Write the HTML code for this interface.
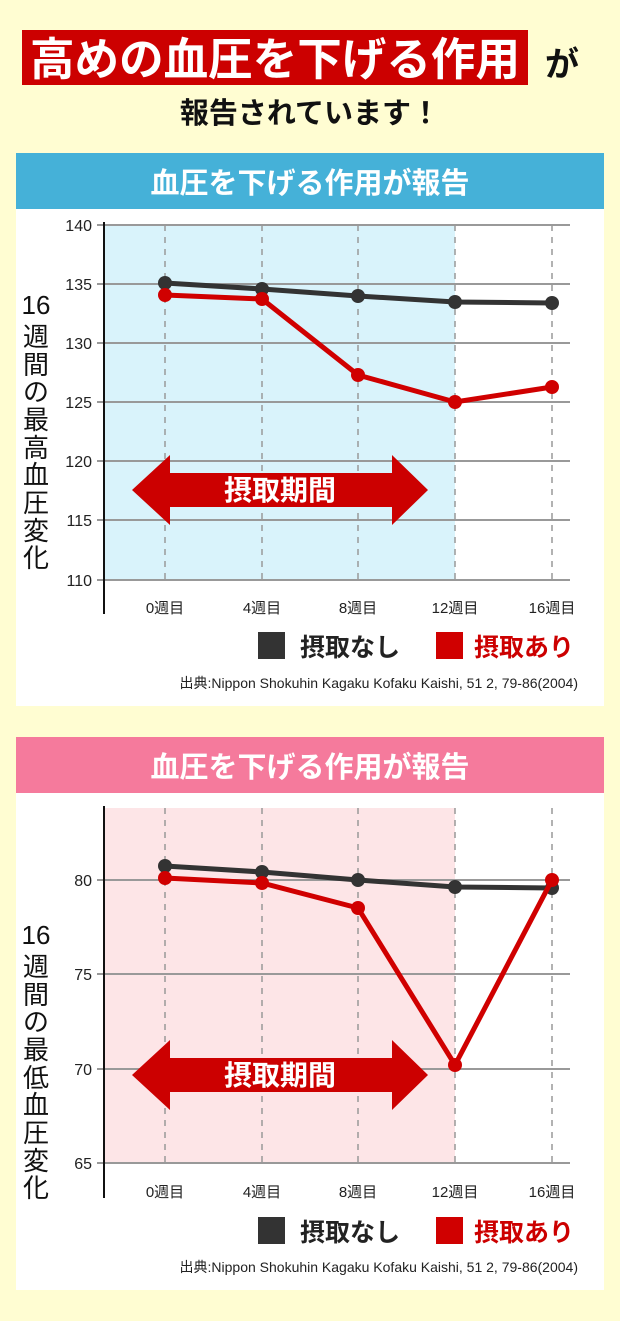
<!DOCTYPE html>
<html><head><meta charset="utf-8"><style>
body{margin:0;background:#fffdd2;}
svg{display:block}
text{font-family:"Liberation Sans","Noto Sans CJK JP",sans-serif;}
</style></head><body>
<svg width="620" height="1321" viewBox="0 0 620 1321" xmlns="http://www.w3.org/2000/svg">
<rect width="620" height="1321" fill="#fffdd2"/>
<!-- Title -->
<rect x="22" y="30" width="506" height="55" fill="#cc0000"/>
<text x="275" y="75" font-size="45" fill="#fff" text-anchor="middle" font-weight="bold" textLength="490" lengthAdjust="spacingAndGlyphs">高めの血圧を下げる作用</text>
<text x="562" y="76" font-size="34" font-weight="bold" fill="#111" text-anchor="middle">が</text>
<text x="310" y="123" font-size="29" font-weight="bold" fill="#111" text-anchor="middle">報告されています！</text>

<!-- Panel 1 -->
<rect x="16" y="153" width="588" height="553" fill="#fff"/>
<rect x="16" y="153" width="588" height="56" fill="#45b1d8"/>
<text x="310" y="193" font-size="29" font-weight="bold" fill="#fff" text-anchor="middle">血圧を下げる作用が報告</text>
<rect x="104" y="225" width="351" height="355" fill="#d9f3fb"/>
<g stroke="#999" stroke-width="2">
<line x1="97" y1="225" x2="570" y2="225"/><line x1="97" y1="284" x2="570" y2="284"/><line x1="97" y1="343" x2="570" y2="343"/><line x1="97" y1="402" x2="570" y2="402"/><line x1="97" y1="461" x2="570" y2="461"/><line x1="97" y1="520" x2="570" y2="520"/><line x1="97" y1="580" x2="570" y2="580"/>
</g>
<g stroke="#999" stroke-width="1.5" stroke-dasharray="6,6">
<line x1="165" y1="225" x2="165" y2="580"/><line x1="262" y1="225" x2="262" y2="580"/><line x1="358" y1="225" x2="358" y2="580"/><line x1="455" y1="225" x2="455" y2="580"/><line x1="552" y1="225" x2="552" y2="580"/>
</g>
<line x1="104" y1="222" x2="104" y2="614" stroke="#111" stroke-width="2"/>
<g font-size="16" fill="#222" text-anchor="end">
<text x="92" y="231">140</text><text x="92" y="290">135</text><text x="92" y="349">130</text><text x="92" y="408">125</text><text x="92" y="467">120</text><text x="92" y="526">115</text><text x="92" y="586">110</text>
</g>
<g font-size="26" fill="#111" text-anchor="middle">
<text x="36" y="314">16</text><text x="36" y="346">週</text><text x="36" y="374">間</text><text x="36" y="401">の</text><text x="36" y="429">最</text><text x="36" y="457">高</text><text x="36" y="484">血</text><text x="36" y="512">圧</text><text x="36" y="540">変</text><text x="36" y="567">化</text>
</g>
<polygon points="132,490 170,455 170,473 392,473 392,455 428,490 392,525 392,507 170,507 170,525" fill="#cc0000"/>
<text x="280" y="500" font-size="28" font-weight="bold" fill="#fff" text-anchor="middle">摂取期間</text>
<polyline points="165,283 262,289 358,296 455,302 552,303" fill="none" stroke="#333" stroke-width="5"/>
<g fill="#333"><circle cx="165" cy="283" r="7"/><circle cx="262" cy="289" r="7"/><circle cx="358" cy="296" r="7"/><circle cx="455" cy="302" r="7"/><circle cx="552" cy="303" r="7"/></g>
<polyline points="165,295 262,299 358,375 455,402 552,387" fill="none" stroke="#d00000" stroke-width="5"/>
<g fill="#d00000"><circle cx="165" cy="295" r="7"/><circle cx="262" cy="299" r="7"/><circle cx="358" cy="375" r="7"/><circle cx="455" cy="402" r="7"/><circle cx="552" cy="387" r="7"/></g>
<g font-size="15" fill="#222" text-anchor="middle">
<text x="165" y="613">0週目</text><text x="262" y="613">4週目</text><text x="358" y="613">8週目</text><text x="455" y="613">12週目</text><text x="552" y="613">16週目</text>
</g>
<rect x="258" y="632" width="27" height="27" fill="#333"/>
<text x="300" y="656" font-size="25" font-weight="bold" fill="#222">摂取なし</text>
<rect x="436" y="632" width="27" height="27" fill="#d00000"/>
<text x="474" y="656" font-size="25" font-weight="bold" fill="#cc0000">摂取あり</text>
<text x="578" y="688" font-size="14" fill="#222" text-anchor="end">出典:Nippon Shokuhin Kagaku Kofaku Kaishi, 51 2, 79-86(2004)</text>

<!-- Panel 2 -->
<rect x="16" y="737" width="588" height="553" fill="#fff"/>
<rect x="16" y="737" width="588" height="56" fill="#f57a9c"/>
<text x="310" y="777" font-size="29" font-weight="bold" fill="#fff" text-anchor="middle">血圧を下げる作用が報告</text>
<rect x="104" y="808" width="351" height="355" fill="#fde5e7"/>
<g stroke="#999" stroke-width="2">
<line x1="97" y1="880" x2="570" y2="880"/><line x1="97" y1="974" x2="570" y2="974"/><line x1="97" y1="1069" x2="570" y2="1069"/><line x1="97" y1="1163" x2="570" y2="1163"/>
</g>
<g stroke="#999" stroke-width="1.5" stroke-dasharray="6,6">
<line x1="165" y1="808" x2="165" y2="1163"/><line x1="262" y1="808" x2="262" y2="1163"/><line x1="358" y1="808" x2="358" y2="1163"/><line x1="455" y1="808" x2="455" y2="1163"/><line x1="552" y1="808" x2="552" y2="1163"/>
</g>
<line x1="104" y1="806" x2="104" y2="1198" stroke="#111" stroke-width="2"/>
<g font-size="16" fill="#222" text-anchor="end">
<text x="92" y="886">80</text><text x="92" y="980">75</text><text x="92" y="1075">70</text><text x="92" y="1169">65</text>
</g>
<g font-size="26" fill="#111" text-anchor="middle">
<text x="36" y="944">16</text><text x="36" y="976">週</text><text x="36" y="1004">間</text><text x="36" y="1031">の</text><text x="36" y="1059">最</text><text x="36" y="1087">低</text><text x="36" y="1114">血</text><text x="36" y="1142">圧</text><text x="36" y="1170">変</text><text x="36" y="1197">化</text>
</g>
<polygon points="132,1075 170,1040 170,1058 392,1058 392,1040 428,1075 392,1110 392,1092 170,1092 170,1110" fill="#cc0000"/>
<text x="280" y="1085" font-size="28" font-weight="bold" fill="#fff" text-anchor="middle">摂取期間</text>
<polyline points="165,866 262,872 358,880 455,887 552,888" fill="none" stroke="#333" stroke-width="5"/>
<g fill="#333"><circle cx="165" cy="866" r="7"/><circle cx="262" cy="872" r="7"/><circle cx="358" cy="880" r="7"/><circle cx="455" cy="887" r="7"/><circle cx="552" cy="888" r="7"/></g>
<polyline points="165,878 262,883 358,908 455,1065 552,880" fill="none" stroke="#d00000" stroke-width="5"/>
<g fill="#d00000"><circle cx="165" cy="878" r="7"/><circle cx="262" cy="883" r="7"/><circle cx="358" cy="908" r="7"/><circle cx="455" cy="1065" r="7"/><circle cx="552" cy="880" r="7"/></g>
<g font-size="15" fill="#222" text-anchor="middle">
<text x="165" y="1197">0週目</text><text x="262" y="1197">4週目</text><text x="358" y="1197">8週目</text><text x="455" y="1197">12週目</text><text x="552" y="1197">16週目</text>
</g>
<rect x="258" y="1217" width="27" height="27" fill="#333"/>
<text x="300" y="1241" font-size="25" font-weight="bold" fill="#222">摂取なし</text>
<rect x="436" y="1217" width="27" height="27" fill="#d00000"/>
<text x="474" y="1241" font-size="25" font-weight="bold" fill="#cc0000">摂取あり</text>
<text x="578" y="1272" font-size="14" fill="#222" text-anchor="end">出典:Nippon Shokuhin Kagaku Kofaku Kaishi, 51 2, 79-86(2004)</text>
</svg>
</body></html>
